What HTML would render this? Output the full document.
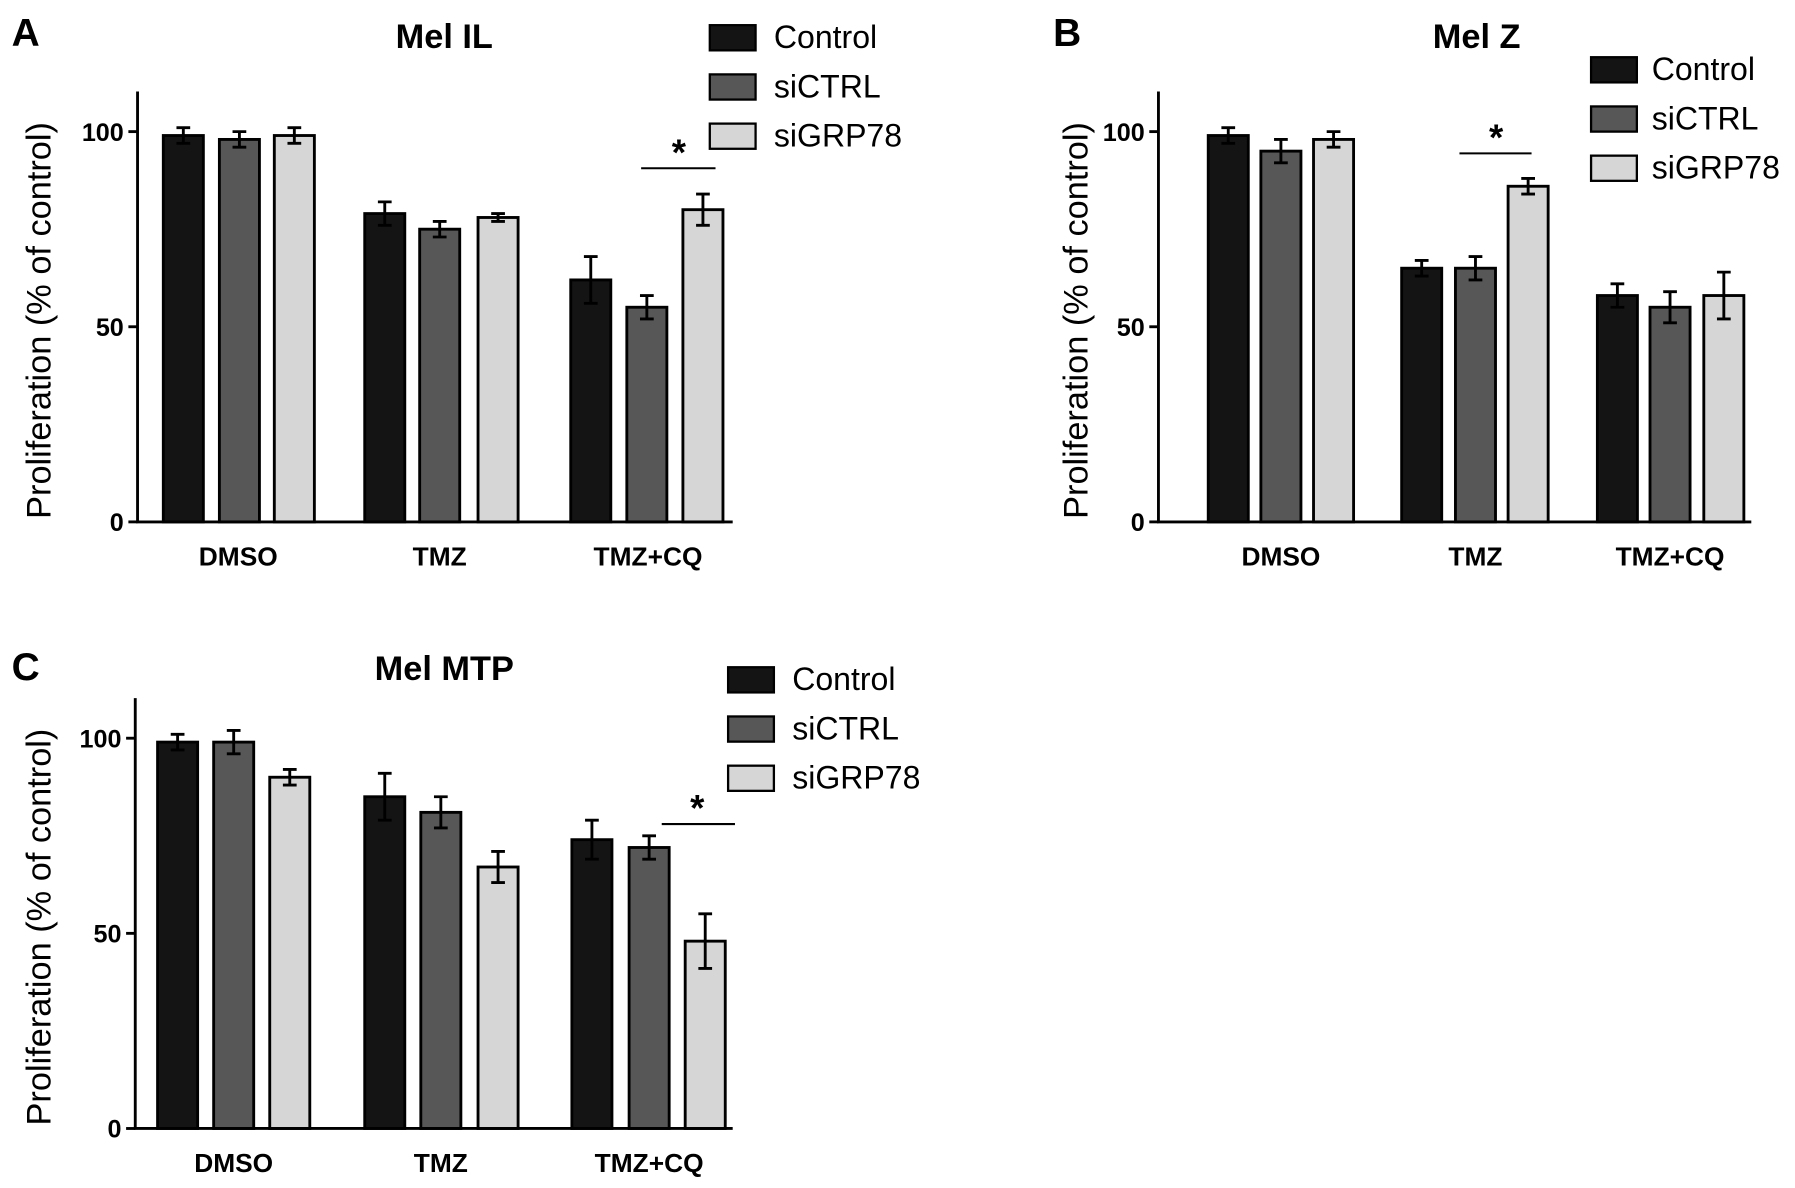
<!DOCTYPE html>
<html><head><meta charset="utf-8"><style>
html,body{margin:0;padding:0;background:#fff;}
svg{display:block;font-family:"Liberation Sans",Arial,sans-serif;}
</style></head><body>
<svg id="fig" width="1795" height="1188" viewBox="0 0 1568 1038" xmlns="http://www.w3.org/2000/svg"></svg>
<script>
const groups = ["DMSO","TMZ","TMZ+CQ"];
const seriesNames = ["Control","siCTRL","siGRP78"];
const colors = ["#141414","#575757","#d6d6d6"];
const yTicks = [0,50,100];
const aVals = [[99,79,62],[98,75,55],[99,78,80]];
const aErr = [[2,3,6],[2,2,3],[2,1,4]];
const bVals = [[99,65,58],[95,65,55],[98,86,58]];
const bErr = [[2,2,3],[3,3,4],[2,2,6]];
const cVals = [[99,85,74],[99,81,72],[90,67,48]];
const cErr = [[2,6,5],[3,4,3],[2,4,7]];

const svg = document.getElementById('fig');
const NS = "http://www.w3.org/2000/svg";
function mk(tag, attrs, parent){const e=document.createElementNS(NS,tag);for(const k in attrs)e.setAttribute(k,attrs[k]);(parent||svg).appendChild(e);return e;}

const panels = [
 {letter:"A",lx:10,ly:40,title:"Mel IL",tx:388,ty:42,ax:120,zero:456,h100:341,top:80,right:640,
  centers:[[160,336,516],[209,384,565],[257,435,614]],labX:[208,384,566],labY:494,
  vals:aVals,err:aErr,leg:[620,22,676],sig:[560,625,147,593,132],ylx:34,yly:280},
 {letter:"B",lx:920,ly:40,title:"Mel Z",tx:1290,ty:42,ax:1012,zero:456,h100:341,top:80,right:1530,
  centers:[[1073,1242,1413],[1119,1289,1459],[1165,1335,1506]],labX:[1119,1289,1459],labY:494,
  vals:bVals,err:bErr,leg:[1390,50,1443],sig:[1275,1338,134,1307,119],ylx:940,yly:280},
 {letter:"C",lx:10,ly:594,title:"Mel MTP",tx:388,ty:594,ax:118,zero:986,h100:341,top:610,right:640,
  centers:[[155,336,517],[204,385,567],[253,435,616]],labX:[204,385,567],labY:1024,
  vals:cVals,err:cErr,leg:[636,583,692],sig:[578,642,720,609,705],ylx:34,yly:810}
];
const BW = 35;
panels.forEach((p,pi)=>{
  const g = mk('g',{});
  
  
  const y = v => p.zero - v/100*p.h100;
  let t = mk('text',{x:p.lx,y:p.ly,'font-size':34,'font-weight':'bold'},g); t.textContent=p.letter;
   
  t = mk('text',{x:p.tx,y:p.ty,'font-size':30,'font-weight':'bold','text-anchor':'middle'},g); t.textContent=p.title;
   
  t = mk('text',{x:0,y:0,'font-size':30,'text-anchor':'middle',transform:`translate(${p.ylx+10},${p.yly}) rotate(-90)`},g);
  t.textContent='Proliferation (% of control)';
   
  seriesNames.forEach((s,si)=>{
    groups.forEach((gname,gi)=>{
      const v=p.vals[si][gi], e=p.err[si][gi], cx=p.centers[si][gi];
      const r = mk('rect',{x:cx-BW/2,y:y(v),width:BW,height:p.zero-y(v),fill:colors[si],stroke:'#000','stroke-width':2.5},g);
      
      
      const eb = mk('path',{d:`M${cx},${y(v+e)}V${y(v-e)}M${cx-6},${y(v+e)}H${cx+6}M${cx-6},${y(v-e)}H${cx+6}`,stroke:'#000','stroke-width':2.5,fill:'none'},g);
       
    });
  });
  const ax = mk('path',{d:`M${p.ax},${p.top}V${p.zero}H${p.right}`,stroke:'#000','stroke-width':2.5,fill:'none'},g);
   
  yTicks.forEach(tv=>{
    mk('line',{x1:p.ax-8,x2:p.ax,y1:y(tv),y2:y(tv),stroke:'#000','stroke-width':2.5},g);
    const tl = mk('text',{x:p.ax-12,y:y(tv)+8,'font-size':22,'font-weight':'bold','text-anchor':'end'},g);
    tl.textContent=tv;
     
  });
  groups.forEach((gname,gi)=>{
    const xl = mk('text',{x:p.labX[gi],y:p.labY,'font-size':23,'font-weight':'bold','text-anchor':'middle'},g);
    xl.textContent=gname;
     
  });
  seriesNames.forEach((s,si)=>{
    const ly = p.leg[1]+si*43;
    const lb = mk('rect',{x:p.leg[0],y:ly,width:40,height:22,fill:colors[si],stroke:'#000','stroke-width':2},g);
     
    const lt = mk('text',{x:p.leg[2],y:ly+20,'font-size':28},g); lt.textContent=s;
     
  });
  const sl = mk('line',{x1:p.sig[0],x2:p.sig[1],y1:p.sig[2],y2:p.sig[2],stroke:'#000','stroke-width':1.8},g);
   
  const st = mk('text',{x:p.sig[3],y:p.sig[4]+12,'font-size':32,'font-weight':'bold','text-anchor':'middle'},g);
  st.textContent='*';
   
});
</script>
</body></html>
